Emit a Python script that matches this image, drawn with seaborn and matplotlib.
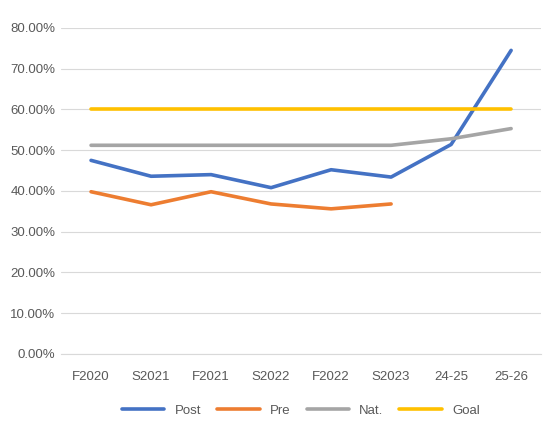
import numpy as np
import pandas as pd
import matplotlib.pyplot as plt
import seaborn as sns
from matplotlib.ticker import PercentFormatter

categories = ["F2020", "S2021", "F2021", "S2022", "F2022", "S2023", "24-25", "25-26"]
post = [0.475, 0.436, 0.440, 0.408, 0.452, 0.434, 0.514, 0.745]
pre = [0.398, 0.366, 0.398, 0.368, 0.356, 0.368, np.nan, np.nan]
nat = [0.512, 0.512, 0.512, 0.512, 0.512, 0.512, 0.528, 0.553]
goal = [0.60] * 8

df = pd.DataFrame({"x": range(len(categories)), "Post": post, "Pre": pre, "Nat.": nat, "Goal": goal})
long = df.melt(id_vars="x", var_name="series", value_name="value").dropna()

sns.set_style("white")
plt.rcParams['font.family'] = ['Calibri', 'Liberation Sans', 'DejaVu Sans']

fig = plt.figure(figsize=(5.55, 4.44), dpi=100)
ax = fig.add_axes([0.110, 0.203, 0.865, 0.734])
palette = {"Post": "#4472C4", "Pre": "#ED7D31", "Nat.": "#A5A5A5", "Goal": "#FFC000"}
sns.lineplot(data=long, x="x", y="value", hue="series", palette=palette, linewidth=2.6, ax=ax, legend=True)

ax.set_xlim(-0.5, len(categories) - 0.5)
ax.set_ylim(0, 0.8)
ax.set_yticks(np.arange(0, 0.81, 0.1))
ax.yaxis.set_major_formatter(PercentFormatter(1.0, decimals=2))
ax.set_xticks(range(len(categories)))
ax.set_xticklabels(categories)
ax.tick_params(colors="#595959", labelsize=9.5, length=0)
ax.tick_params(axis="x", pad=12)
ax.tick_params(axis="y", pad=4)
ax.grid(axis="y", color="#D9D9D9", linewidth=0.8)
for s in ["top", "right", "left"]:
    ax.spines[s].set_visible(False)
ax.spines["bottom"].set_color("#D9D9D9")
ax.set_xlabel("")
ax.set_ylabel("")

handles, labels = ax.get_legend_handles_labels()
ax.legend(handles, labels, loc="upper center", bbox_to_anchor=(0.5, -0.12), ncol=4,
          frameon=False, fontsize=9.5, labelcolor="#595959", handlelength=3.2, columnspacing=1.2)

fig.savefig("out.png", dpi=100)
